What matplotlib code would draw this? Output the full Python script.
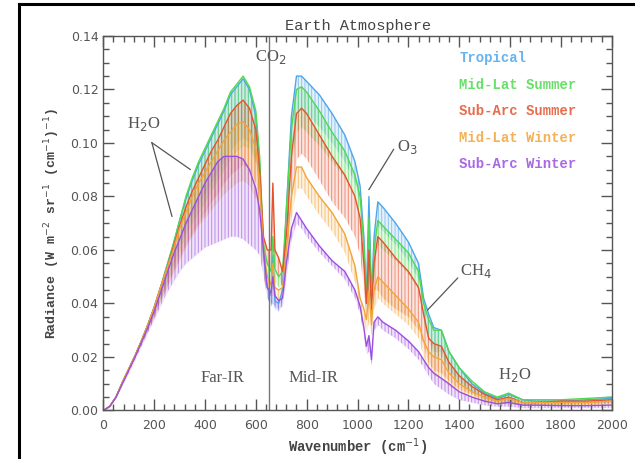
import numpy as np
import matplotlib
matplotlib.use('Agg')
import matplotlib.pyplot as plt
from matplotlib.ticker import MultipleLocator

# wavenumber grid (cm^-1)
wavenumber = [0, 25, 50, 75, 100, 125, 150, 175, 200, 225, 250, 275, 300, 325, 350, 375,
              400, 425, 450, 475, 500, 525, 550, 575, 600, 615, 630, 645, 660, 667, 675, 690,
              705, 720, 740, 760, 780, 800, 850, 900, 950, 990, 1010, 1025, 1035, 1045, 1055,
              1065, 1080, 1100, 1150, 1200, 1240, 1260, 1280, 1300, 1330, 1360, 1400, 1450,
              1500, 1550, 1595, 1650, 1700, 1800, 1900, 2000]

# upper envelopes
tropical_top = [0, 0.0015, 0.005, 0.0105, 0.0155, 0.0205, 0.026, 0.032, 0.0385, 0.046, 0.054, 0.062,
                0.071, 0.079, 0.086, 0.092, 0.097, 0.102, 0.107, 0.112, 0.118, 0.121, 0.124, 0.120,
                0.110, 0.092, 0.058, 0.046, 0.043, 0.058, 0.041, 0.040, 0.045, 0.075, 0.110, 0.125,
                0.125, 0.123, 0.118, 0.111, 0.103, 0.093, 0.084, 0.065, 0.042, 0.080, 0.042, 0.065,
                0.078, 0.076, 0.070, 0.063, 0.055, 0.042, 0.036, 0.031, 0.030, 0.022, 0.016, 0.010,
                0.0065, 0.0045, 0.006, 0.004, 0.0035, 0.0035, 0.004, 0.0045]
midlat_summer_top = [0, 0.0015, 0.005, 0.0105, 0.0155, 0.0205, 0.026, 0.032, 0.0385, 0.046, 0.054, 0.062,
                     0.071, 0.080, 0.087, 0.093, 0.098, 0.103, 0.108, 0.113, 0.119, 0.122, 0.125, 0.121,
                     0.112, 0.095, 0.062, 0.055, 0.052, 0.065, 0.053, 0.050, 0.052, 0.075, 0.105, 0.120,
                     0.121, 0.119, 0.112, 0.104, 0.097, 0.088, 0.080, 0.062, 0.040, 0.072, 0.040, 0.060,
                     0.071, 0.069, 0.064, 0.059, 0.052, 0.040, 0.034, 0.030, 0.030, 0.022, 0.016, 0.011,
                     0.007, 0.005, 0.0065, 0.004, 0.004, 0.004, 0.0045, 0.005]
subarc_summer_top = [0, 0.0015, 0.005, 0.0105, 0.0155, 0.0205, 0.026, 0.032, 0.0385, 0.046, 0.053, 0.061,
                     0.069, 0.076, 0.082, 0.087, 0.092, 0.097, 0.101, 0.106, 0.111, 0.114, 0.116, 0.113,
                     0.105, 0.090, 0.065, 0.060, 0.060, 0.085, 0.060, 0.057, 0.052, 0.065, 0.095, 0.111,
                     0.113, 0.111, 0.103, 0.095, 0.088, 0.080, 0.072, 0.055, 0.040, 0.060, 0.038, 0.055,
                     0.065, 0.063, 0.057, 0.052, 0.046, 0.036, 0.027, 0.025, 0.024, 0.018, 0.013, 0.009,
                     0.006, 0.004, 0.005, 0.003, 0.003, 0.0035, 0.0035, 0.004]
midlat_winter_top = [0, 0.0015, 0.005, 0.0105, 0.0155, 0.0205, 0.026, 0.032, 0.0385, 0.046, 0.053, 0.060,
                     0.068, 0.074, 0.080, 0.085, 0.089, 0.093, 0.097, 0.101, 0.104, 0.107, 0.108, 0.105,
                     0.098, 0.085, 0.060, 0.050, 0.047, 0.055, 0.046, 0.045, 0.046, 0.060, 0.080, 0.091,
                     0.091, 0.087, 0.080, 0.074, 0.066, 0.054, 0.042, 0.038, 0.034, 0.045, 0.032, 0.045,
                     0.050, 0.048, 0.043, 0.038, 0.033, 0.026, 0.022, 0.020, 0.019, 0.014, 0.010, 0.007,
                     0.005, 0.0035, 0.0045, 0.003, 0.003, 0.003, 0.003, 0.0035]
subarc_winter_top = [0, 0.0015, 0.005, 0.010, 0.015, 0.020, 0.0255, 0.031, 0.037, 0.044, 0.051, 0.058,
                     0.064, 0.070, 0.075, 0.080, 0.085, 0.089, 0.093, 0.095, 0.095, 0.095, 0.094, 0.090,
                     0.083, 0.075, 0.060, 0.046, 0.044, 0.050, 0.043, 0.041, 0.042, 0.055, 0.068, 0.074,
                     0.071, 0.068, 0.0615, 0.056, 0.052, 0.045, 0.039, 0.031, 0.024, 0.028, 0.019, 0.033,
                     0.035, 0.033, 0.030, 0.026, 0.022, 0.019, 0.016, 0.014, 0.012, 0.010, 0.007, 0.005,
                     0.0035, 0.0025, 0.003, 0.002, 0.002, 0.0018, 0.0018, 0.002]

# bottoms of the absorption lines
tropical_dip = [0, 0.0015, 0.005, 0.010, 0.015, 0.020, 0.025, 0.030, 0.036, 0.042, 0.048, 0.055,
                0.062, 0.068, 0.073, 0.077, 0.081, 0.085, 0.089, 0.093, 0.097, 0.100, 0.102, 0.100,
                0.094, 0.080, 0.052, 0.042, 0.039, 0.040, 0.038, 0.037, 0.041, 0.065, 0.098, 0.112,
                0.113, 0.111, 0.106, 0.100, 0.093, 0.085, 0.077, 0.058, 0.038, 0.045, 0.038, 0.057,
                0.069, 0.067, 0.062, 0.056, 0.049, 0.035, 0.028, 0.022, 0.022, 0.015, 0.011, 0.007,
                0.0045, 0.003, 0.003, 0.0025, 0.0025, 0.0025, 0.003, 0.003]
midlat_summer_dip = [0, 0.0015, 0.005, 0.010, 0.015, 0.020, 0.025, 0.030, 0.036, 0.042, 0.048, 0.054,
                     0.060, 0.066, 0.070, 0.074, 0.078, 0.082, 0.086, 0.090, 0.094, 0.097, 0.099, 0.098,
                     0.092, 0.080, 0.055, 0.050, 0.048, 0.048, 0.048, 0.046, 0.047, 0.062, 0.090, 0.104,
                     0.106, 0.104, 0.099, 0.093, 0.087, 0.080, 0.072, 0.055, 0.036, 0.045, 0.036, 0.052,
                     0.062, 0.060, 0.056, 0.051, 0.045, 0.033, 0.026, 0.020, 0.020, 0.014, 0.010, 0.007,
                     0.004, 0.003, 0.003, 0.002, 0.002, 0.002, 0.0025, 0.003]
subarc_summer_dip = [0, 0.0015, 0.005, 0.010, 0.015, 0.020, 0.025, 0.030, 0.035, 0.041, 0.046, 0.052,
                     0.057, 0.062, 0.066, 0.070, 0.074, 0.078, 0.081, 0.085, 0.088, 0.090, 0.092, 0.090,
                     0.085, 0.075, 0.056, 0.054, 0.054, 0.054, 0.054, 0.050, 0.046, 0.055, 0.080, 0.094,
                     0.096, 0.094, 0.086, 0.078, 0.072, 0.065, 0.058, 0.045, 0.034, 0.040, 0.033, 0.045,
                     0.045, 0.042, 0.038, 0.035, 0.030, 0.024, 0.018, 0.015, 0.014, 0.011, 0.008, 0.006,
                     0.0035, 0.0025, 0.003, 0.002, 0.002, 0.002, 0.002, 0.0025]
midlat_winter_dip = [0, 0.0015, 0.005, 0.010, 0.015, 0.020, 0.025, 0.030, 0.035, 0.041, 0.046, 0.051,
                     0.056, 0.061, 0.065, 0.069, 0.072, 0.075, 0.078, 0.081, 0.083, 0.085, 0.086, 0.084,
                     0.079, 0.070, 0.050, 0.045, 0.043, 0.043, 0.042, 0.041, 0.042, 0.052, 0.072, 0.083,
                     0.083, 0.080, 0.073, 0.067, 0.059, 0.048, 0.037, 0.033, 0.029, 0.033, 0.028, 0.038,
                     0.042, 0.040, 0.036, 0.032, 0.027, 0.020, 0.016, 0.013, 0.012, 0.009, 0.007, 0.005,
                     0.003, 0.0025, 0.0025, 0.002, 0.002, 0.002, 0.002, 0.002]
subarc_winter_dip = [0, 0.0015, 0.005, 0.0095, 0.014, 0.019, 0.024, 0.029, 0.034, 0.039, 0.044, 0.048,
                     0.052, 0.055, 0.057, 0.059, 0.061, 0.062, 0.063, 0.064, 0.065, 0.065, 0.064, 0.062,
                     0.060, 0.058, 0.050, 0.042, 0.040, 0.040, 0.039, 0.038, 0.039, 0.050, 0.064, 0.070,
                     0.068, 0.065, 0.059, 0.054, 0.049, 0.042, 0.036, 0.028, 0.021, 0.022, 0.017, 0.030,
                     0.032, 0.030, 0.027, 0.023, 0.019, 0.016, 0.013, 0.010, 0.008, 0.006, 0.004, 0.003,
                     0.002, 0.0015, 0.0015, 0.001, 0.001, 0.001, 0.001, 0.001]

names = ['Tropical', 'Mid-Lat Summer', 'Sub-Arc Summer', 'Mid-Lat Winter', 'Sub-Arc Winter']
tops = [tropical_top, midlat_summer_top, subarc_summer_top, midlat_winter_top, subarc_winter_top]
dips = [tropical_dip, midlat_summer_dip, subarc_summer_dip, midlat_winter_dip, subarc_winter_dip]
colors = ['#4ea6ea', '#4fd94f', '#e5532f', '#f2a43a', '#9b4fe0']

gray = '#555555'
plt.rcParams['hatch.linewidth'] = 0.7

fig = plt.figure(figsize=(6.35, 4.59), dpi=100)
ax = fig.add_axes([0.1627, 0.1057, 0.8006, 0.8159])

# pale band plus thin vertical hatch to mimic the dense absorption lines
for name, top, dip, c in zip(names, tops, dips, colors):
    ax.fill_between(wavenumber, dip, top, color=c, alpha=0.15, lw=0)
    ax.fill_between(wavenumber, dip, top, facecolor='none', edgecolor=c, hatch='|||||',
                    lw=0, alpha=0.6)
    ax.plot(wavenumber, top, color=c, lw=1.0)

ax.axvline(650, color='#777777', lw=1.0)

ax.set_xlim(0, 2000)
ax.set_ylim(0, 0.14)
ax.xaxis.set_major_locator(MultipleLocator(200))
ax.xaxis.set_minor_locator(MultipleLocator(40))
ax.yaxis.set_major_locator(MultipleLocator(0.02))
ax.yaxis.set_minor_locator(MultipleLocator(0.005))
ax.yaxis.set_major_formatter(matplotlib.ticker.FormatStrFormatter('%.2f'))
ax.tick_params(which='both', direction='in', top=True, right=True, color=gray,
               labelsize=9, labelcolor=gray, width=1.0)
ax.tick_params(which='major', length=8)
ax.tick_params(which='minor', length=4)
ax.tick_params(axis='x', pad=6)
for s in ax.spines.values():
    s.set_color(gray)
    s.set_linewidth(1.0)

mono = 'Liberation Mono'
ax.set_title('Earth Atmosphere', fontsize=11, color='#444444', family=mono, pad=4)
ax.set_xlabel('Wavenumber (cm$^{-1}$)', fontsize=10, color='#444444', family=mono,
              fontweight='bold', labelpad=3)
ax.set_ylabel('Radiance (W m$^{-2}$ sr$^{-1}$ (cm$^{-1}$)$^{-1}$)', fontsize=9.5,
              color='#444444', family=mono, fontweight='bold', labelpad=6)

serif = 'Liberation Serif'
tc = '#555555'
ax.text(595, 0.132, 'CO$_2$', fontsize=12, color=tc, family=serif, va='center')
ax.text(157, 0.107, 'H$_2$O', fontsize=12, color=tc, family=serif, ha='center', va='center')
ax.plot([191, 342], [0.1001, 0.0901], color=tc, lw=0.9)
ax.plot([191, 270], [0.1001, 0.0726], color=tc, lw=0.9)
ax.text(1195, 0.0985, 'O$_3$', fontsize=12, color=tc, family=serif, ha='center', va='center')
ax.plot([1142, 1045], [0.0976, 0.0826], color=tc, lw=0.9)
ax.text(1465, 0.052, 'CH$_4$', fontsize=12, color=tc, family=serif, ha='center', va='center')
ax.plot([1394, 1276], [0.0495, 0.0376], color=tc, lw=0.9)
ax.text(1617, 0.0133, 'H$_2$O', fontsize=12, color=tc, family=serif, ha='center', va='center')
ax.text(468, 0.0122, 'Far-IR', fontsize=12, color=tc, family=serif, ha='center', va='center')
ax.text(827, 0.0122, 'Mid-IR', fontsize=12, color=tc, family=serif, ha='center', va='center')

for i, (name, c) in enumerate(zip(names, colors)):
    ax.text(1400, 0.1316 - i * 0.0099, name, fontsize=10, color=c, family=mono,
            fontweight='bold', va='center', alpha=0.85)

# frame of the original screenshot
fig.add_artist(plt.Line2D([19 / 635, 19 / 635], [0, 1 - 4 / 459], color='black', lw=2.2,
                          transform=fig.transFigure))
fig.add_artist(plt.Line2D([19 / 635, 1], [1 - 4 / 459, 1 - 4 / 459], color='black', lw=2.2,
                          transform=fig.transFigure))

fig.savefig('out.png', dpi=100)
